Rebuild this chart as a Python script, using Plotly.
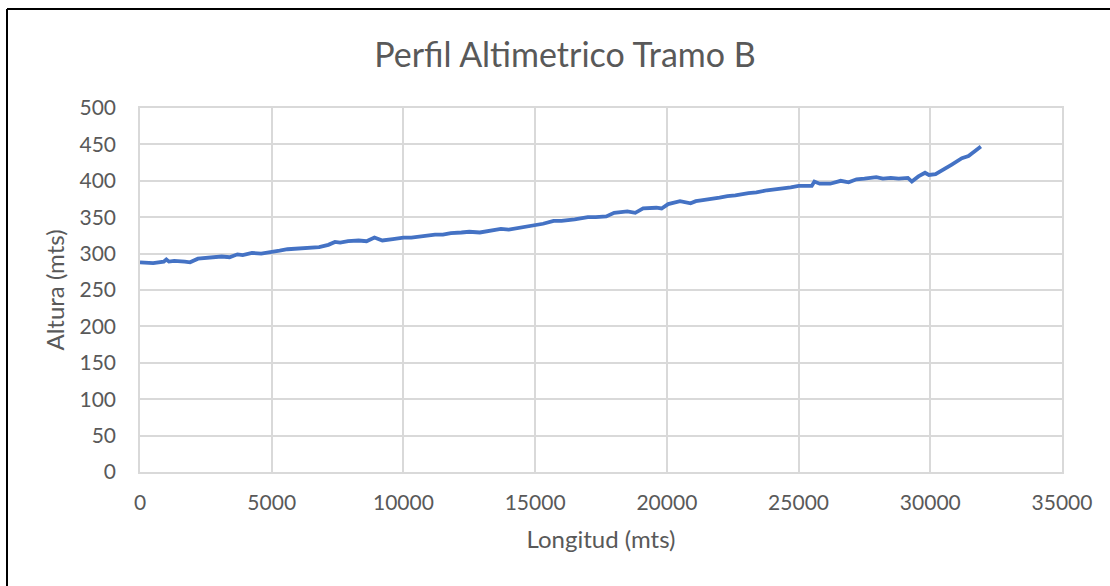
import plotly.graph_objects as go

longitud = [0, 250, 500, 900, 1000, 1100, 1300, 1700, 1900, 2200, 2600, 3100, 3400, 3700, 3900,
            4250, 4600, 5000, 5300, 5600, 6000, 6400, 6800, 7150, 7400, 7600, 7900, 8300, 8600, 8900,
            9200, 9600, 10000, 10300, 10700, 11000, 11200, 11500, 11800, 12200, 12500, 12900, 13300,
            13700, 14000, 14300, 14600, 15000, 15300, 15700, 16000, 16500, 17000, 17300, 17700, 18000,
            18500, 18800, 19100, 19600, 19800, 20050, 20500, 20900, 21100, 21300, 21700, 22000, 22300,
            22600, 23100, 23400, 23800, 24100, 24400, 24700, 25000, 25500, 25600, 25800, 26200, 26600,
            26900, 27200, 27500, 27950, 28200, 28500, 28800, 29150, 29300, 29550, 29800, 29950, 30200,
            30500, 30800, 31200, 31450, 31700, 31920]
altura = [288, 287, 287, 289, 292, 289, 290, 289, 288, 293, 294, 296, 295, 299, 298,
          301, 300, 303, 304, 306, 307, 308, 309, 312, 316, 315, 317, 318, 317, 322,
          318, 320, 322, 322, 324, 325, 326, 326, 328, 329, 330, 329, 332,
          334, 333, 335, 336, 339, 341, 345, 345, 347, 350, 350, 351, 356,
          358, 356, 362, 363, 362, 368, 372, 369, 372, 373, 376, 377, 379,
          380, 383, 384, 387, 388, 390, 391, 393, 393, 399, 396, 396, 400,
          398, 402, 403, 405, 403, 404, 403, 404, 399, 406, 411, 408, 409,
          415, 422, 431, 434, 441, 447]

x_ticks = [0, 5000, 10000, 15000, 20000, 25000, 30000, 35000]
y_ticks = [0, 50, 100, 150, 200, 250, 300, 350, 400, 450, 500]

FONT = "Lato"
GREY = "#595959"
GRID = "#d9d9d9"

fig = go.Figure()
fig.add_trace(go.Scatter(x=longitud, y=altura, mode="lines",
                         line=dict(color="#4472c4", width=3.8), showlegend=False))

fig.update_layout(
    width=1110, height=586,
    margin=dict(l=140, r=48, t=108, b=114),
    paper_bgcolor="white", plot_bgcolor="white",
    title=dict(text="Perfil Altimetrico Tramo B", x=565/1110, xanchor="center",
               y=1 - 55/586, yanchor="middle", yref="container",
               font=dict(family=FONT, size=34, color=GREY)),
    font=dict(family=FONT, color=GREY),
    xaxis=dict(range=[0, 35000], tickvals=x_ticks, ticktext=[str(v) for v in x_ticks],
               showgrid=True, gridcolor=GRID, gridwidth=1.5, zeroline=False,
               showline=True, linecolor=GRID, linewidth=1.5, mirror=True,
               ticks="outside", ticklen=11, tickcolor="rgba(0,0,0,0)",
               tickfont=dict(family=FONT, size=21, color=GREY),
               title=dict(text="Longitud (mts)", font=dict(family=FONT, size=24, color=GREY), standoff=18)),
    yaxis=dict(range=[0, 500], tickvals=y_ticks, ticktext=[str(v) for v in y_ticks],
               showgrid=True, gridcolor=GRID, gridwidth=1.5, zeroline=False,
               showline=True, linecolor=GRID, linewidth=1.5, mirror=True,
               ticks="outside", ticklen=18, tickcolor="rgba(0,0,0,0)",
               tickfont=dict(family=FONT, size=21, color=GREY),
               title=dict(text="Altura (mts)", font=dict(family=FONT, size=24, color=GREY), standoff=8)),
)

# outer frame (top and left edges visible in reference)
pw, ph = 922, 364
def px_x(p):
    return (p - 140) / pw
def px_y(p):
    return (472 - p) / ph
fig.add_shape(type="line", xref="paper", yref="paper",
              x0=px_x(7), x1=px_x(1112), y0=px_y(9), y1=px_y(9),
              line=dict(color="black", width=2))
fig.add_shape(type="line", xref="paper", yref="paper",
              x0=px_x(7), x1=px_x(7), y0=px_y(9), y1=px_y(590),
              line=dict(color="black", width=2))

fig.write_html("out.html")
